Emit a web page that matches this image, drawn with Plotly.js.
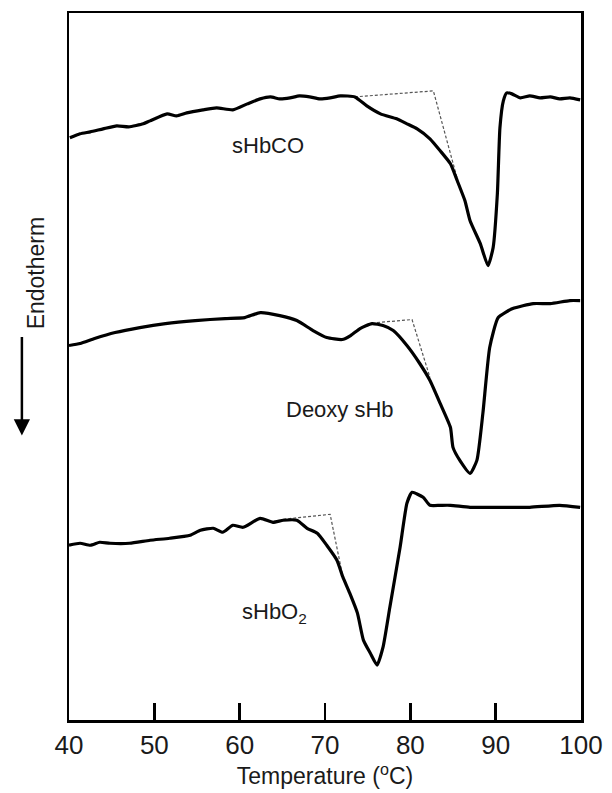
<!DOCTYPE html>
<html>
<head>
<meta charset="utf-8">
<script src="https://cdn.plot.ly/plotly-3.0.1.min.js"></script>
<style>
  html, body { margin: 0; padding: 0; background: #fff; }
  #chart { width: 612px; height: 793px; }
</style>
</head>
<body>
<div id="chart"></div>
<script>
// DSC thermograms (heat flow, arbitrary offset units) vs temperature
const tempCO = [40.1, 41.3, 42.5, 44.0, 45.6, 47.0, 48.7, 49.5, 51.5, 52.6, 53.8, 55.7, 57.3, 59.2, 60.9, 62.4, 63.6, 64.7, 65.9, 67.0, 68.2, 69.4, 70.6, 71.8, 73.5, 74.9, 76.5, 78.4, 79.6, 80.8, 82.3, 83.5, 84.7, 85.5, 86.4, 87.0, 88.2, 89.1, 89.7, 90.2, 90.5, 90.9, 91.3, 91.9, 92.9, 94.0, 95.2, 96.4, 97.5, 98.7, 99.9];
const heatCO = [58.3, 58.7, 58.9, 59.2, 59.5, 59.4, 59.7, 60.0, 60.7, 60.5, 60.8, 61.1, 61.3, 61.1, 61.7, 62.2, 62.4, 62.2, 62.3, 62.5, 62.4, 62.2, 62.3, 62.5, 62.4, 61.5, 60.7, 60.2, 59.7, 59.2, 58.2, 57.0, 55.7, 54.0, 52.0, 50.0, 47.7, 45.5, 47.3, 52.7, 59.3, 62.0, 62.8, 62.7, 62.3, 62.5, 62.3, 62.4, 62.2, 62.3, 62.1];

const tempDeoxy = [40.0, 41.3, 43.0, 45.4, 48.3, 51.3, 54.8, 58.3, 60.6, 62.4, 64.7, 66.7, 68.6, 70.2, 72.0, 73.0, 74.1, 75.5, 76.8, 78.0, 79.6, 81.1, 82.3, 83.5, 84.7, 85.0, 85.8, 87.0, 87.8, 88.5, 89.3, 90.3, 92.0, 94.4, 96.4, 98.7, 99.9];
const heatDeoxy = [37.5, 37.7, 38.2, 38.8, 39.3, 39.7, 40.0, 40.2, 40.3, 40.8, 40.5, 40.0, 39.0, 38.3, 38.1, 38.5, 39.2, 39.7, 39.5, 39.0, 37.5, 35.7, 34.0, 31.7, 29.3, 27.3, 26.0, 24.7, 26.0, 30.7, 37.3, 40.3, 41.2, 41.7, 41.7, 42.0, 42.0];

const tempO2 = [40.0, 41.3, 42.5, 43.6, 44.8, 47.1, 49.5, 51.8, 54.2, 55.4, 56.9, 58.0, 59.2, 60.4, 62.4, 63.9, 65.1, 66.7, 67.9, 69.1, 70.2, 71.4, 72.1, 72.9, 73.8, 74.5, 75.3, 76.1, 76.8, 77.6, 78.8, 79.6, 80.2, 81.5, 82.3, 83.5, 84.7, 87.0, 90.5, 94.0, 97.5, 99.9];
const heatO2 = [17.5, 17.7, 17.5, 17.8, 17.7, 17.7, 18.0, 18.2, 18.5, 19.0, 19.2, 18.8, 19.5, 19.3, 20.2, 19.8, 20.0, 20.0, 19.2, 18.7, 17.5, 16.0, 14.3, 12.7, 10.7, 8.0, 6.7, 5.5, 7.3, 11.3, 17.3, 21.7, 22.8, 22.3, 21.5, 21.5, 21.5, 21.3, 21.3, 21.3, 21.5, 21.3];

// Extrapolated baseline constructions (dashed)
const baseTempCO = [73.5, 82.7, 85.5];
const baseHeatCO = [62.4, 63.0, 54.2];
const baseTempDeoxy = [76.1, 80.2, 82.3];
const baseHeatDeoxy = [39.8, 40.1, 34.3];
const baseTempO2 = [65.1, 70.6, 72.1];
const baseHeatO2 = [20.1, 20.6, 14.3];

const xTicks = [40, 50, 60, 70, 80, 90, 100];
const sampleNames = ['sHbCO', 'Deoxy sHb', 'sHbO<sub>2</sub>'];

const FONT = 'Liberation Sans, Arial, Helvetica, sans-serif';

function curve(x, y) {
  return { x: x, y: y, type: 'scatter', mode: 'lines',
           line: { color: '#000', width: 3.2, shape: 'spline', smoothing: 0.5 },
           hoverinfo: 'skip', showlegend: false };
}
function baseline(x, y) {
  return { x: x, y: y, type: 'scatter', mode: 'lines',
           line: { color: '#555', width: 1.2, dash: '3px,2px' },
           hoverinfo: 'skip', showlegend: false };
}

const traces = [
  baseline(baseTempCO, baseHeatCO),
  baseline(baseTempDeoxy, baseHeatDeoxy),
  baseline(baseTempO2, baseHeatO2),
  curve(tempCO, heatCO),
  curve(tempDeoxy, heatDeoxy),
  curve(tempO2, heatO2)
];

const labelFont = { family: FONT, size: 22, color: '#1a1a1a' };

const layout = {
  width: 612, height: 793,
  margin: { l: 69, r: 31, t: 13, b: 73 },
  paper_bgcolor: '#fff', plot_bgcolor: '#fff',
  showlegend: false,
  xaxis: {
    range: [40, 100],
    tickvals: xTicks,
    ticktext: xTicks.map(String),
    ticks: 'inside', ticklen: 17, tickwidth: 2.5, tickcolor: '#000',
    showline: true, linecolor: '#000', linewidth: 2.5, mirror: true,
    showgrid: false, zeroline: false,
    tickfont: { family: FONT, size: 26, color: '#1a1a1a' },
    title: { text: 'Temperature (<sup>o</sup>C)', font: { family: FONT, size: 23, color: '#1a1a1a' }, standoff: 6 }
  },
  yaxis: {
    range: [0, 70.8],
    showticklabels: false, ticks: '',
    showline: true, linecolor: '#000', linewidth: 2.5, mirror: true,
    showgrid: false, zeroline: false
  },
  annotations: [
    { x: 63.3, y: 57.5, xref: 'x', yref: 'y', text: sampleNames[0], showarrow: false, font: labelFont },
    { x: 71.8, y: 31.1, xref: 'x', yref: 'y', text: sampleNames[1], showarrow: false, font: labelFont },
    { x: 64.1, y: 10.7, xref: 'x', yref: 'y', text: sampleNames[2], showarrow: false, font: labelFont },
    { x: -0.092, y: 0.633, xref: 'paper', yref: 'paper', text: 'Endotherm', textangle: -90,
      showarrow: false, font: { family: FONT, size: 23, color: '#1a1a1a' } },
    { x: -0.092, y: 0.4025, xref: 'paper', yref: 'paper', text: '', showarrow: true,
      ax: 0, ay: -100, arrowhead: 2, arrowsize: 1.3, arrowwidth: 2.5, arrowcolor: '#000' }
  ]
};

Plotly.newPlot('chart', traces, layout, { staticPlot: true, displayModeBar: false });
</script>
</body>
</html>
